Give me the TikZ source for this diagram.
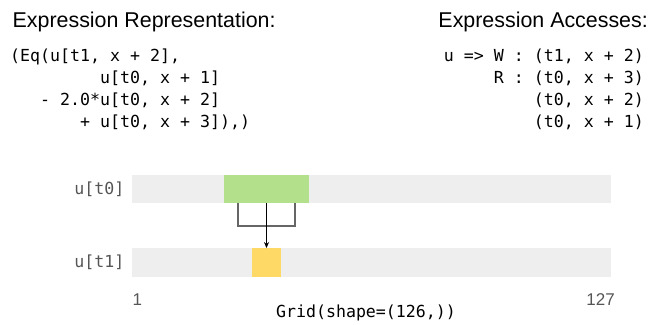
\documentclass[tikz,border=0pt]{standalone}
\usepackage{fontspec}
\setmainfont{Liberation Sans}
\setmonofont{DejaVu Sans Mono}
\usetikzlibrary{arrows.meta}

\definecolor{cellgray}{HTML}{EEEEEE}
\definecolor{readgreen}{HTML}{B3E08B}
\definecolor{writeyellow}{HTML}{FFD966}
\definecolor{labelgray}{HTML}{555555}
\definecolor{linkgray}{HTML}{666666}

\tikzset{
  heading/.style={inner sep=0pt, font=\fontsize{21.4}{24}\selectfont},
  code/.style={inner sep=0pt, font=\fontsize{16.6}{20}\selectfont\ttfamily},
  rowlabel/.style={code, text=labelgray, anchor=base east},
  ticklabel/.style={inner sep=0pt, text=labelgray, font=\fontsize{17}{20}\selectfont},
  bar/.style={fill=cellgray, inner sep=0pt, minimum width=479pt, minimum height=28.5pt},
  cell/.style={inner sep=0pt, minimum height=28.5pt},
  link/.style={linkgray, line width=1.4pt},
  access/.style={black, line width=1.4pt, -{Stealth[length=6pt, width=5pt]}}
}

\begin{document}
\begin{tikzpicture}[x=1pt, y=-1pt]
  \useasboundingbox (0,0) rectangle (660,324);

  % Naglowki
  \node[heading, anchor=base west] (reprtitle) at (12.5,27) {Expression Representation:};
  \node[heading, anchor=base east] (acctitle) at (648,27) {Expression Accesses:};

  % Wyrazenie
  \node[code, anchor=base west] (eq1) at (10,61) {(Eq(u[t1, x + 2],};
  \node[code, anchor=base west] (eq2) at (100,83) {u[t0, x + 1]};
  \node[code, anchor=base west] (eq3) at (40,105) {- 2.0*u[t0, x + 2]};
  \node[code, anchor=base west] (eq4) at (80,127) {+ u[t0, x + 3]),)};

  % Dostepy
  \node[code, anchor=base east] (acc1) at (644,61) {u => W : (t1, x + 2)};
  \node[code, anchor=base east] (acc2) at (644,83) {R : (t0, x + 3)};
  \node[code, anchor=base east] (acc3) at (644,105) {(t0, x + 2)};
  \node[code, anchor=base east] (acc4) at (644,127) {(t0, x + 1)};

  % Wiersze siatki
  \node[bar] (row0) at (371.5,189) {};
  \node[bar] (row1) at (371.5,262.5) {};
  \node[rowlabel] (lab0) at (124.5,194) {u[t0]};
  \node[rowlabel] (lab1) at (124.5,267) {u[t1]};

  % Komorki
  \node[cell, fill=readgreen, minimum width=85pt] (green) at (266.5,189) {};
  \node[cell, fill=writeyellow, minimum width=29pt] (yellow) at (266.5,262.5) {};

  % Polaczenia
  \coordinate (jl) at (238,226);
  \coordinate (jr) at (295,226);
  \draw[link] (green.south -| jl) -- (jl) -- (jr) -- (green.south -| jr);
  \draw[access] (green.south) -- (yellow.north);

  % Os
  \node[ticklabel, anchor=base west] (first) at (132.5,305) {1};
  \node[ticklabel, anchor=base east] (last) at (615,305) {127};
  \node[code, anchor=base] (grid) at (366,317) {Grid(shape=(126,))};
\end{tikzpicture}
\end{document}
